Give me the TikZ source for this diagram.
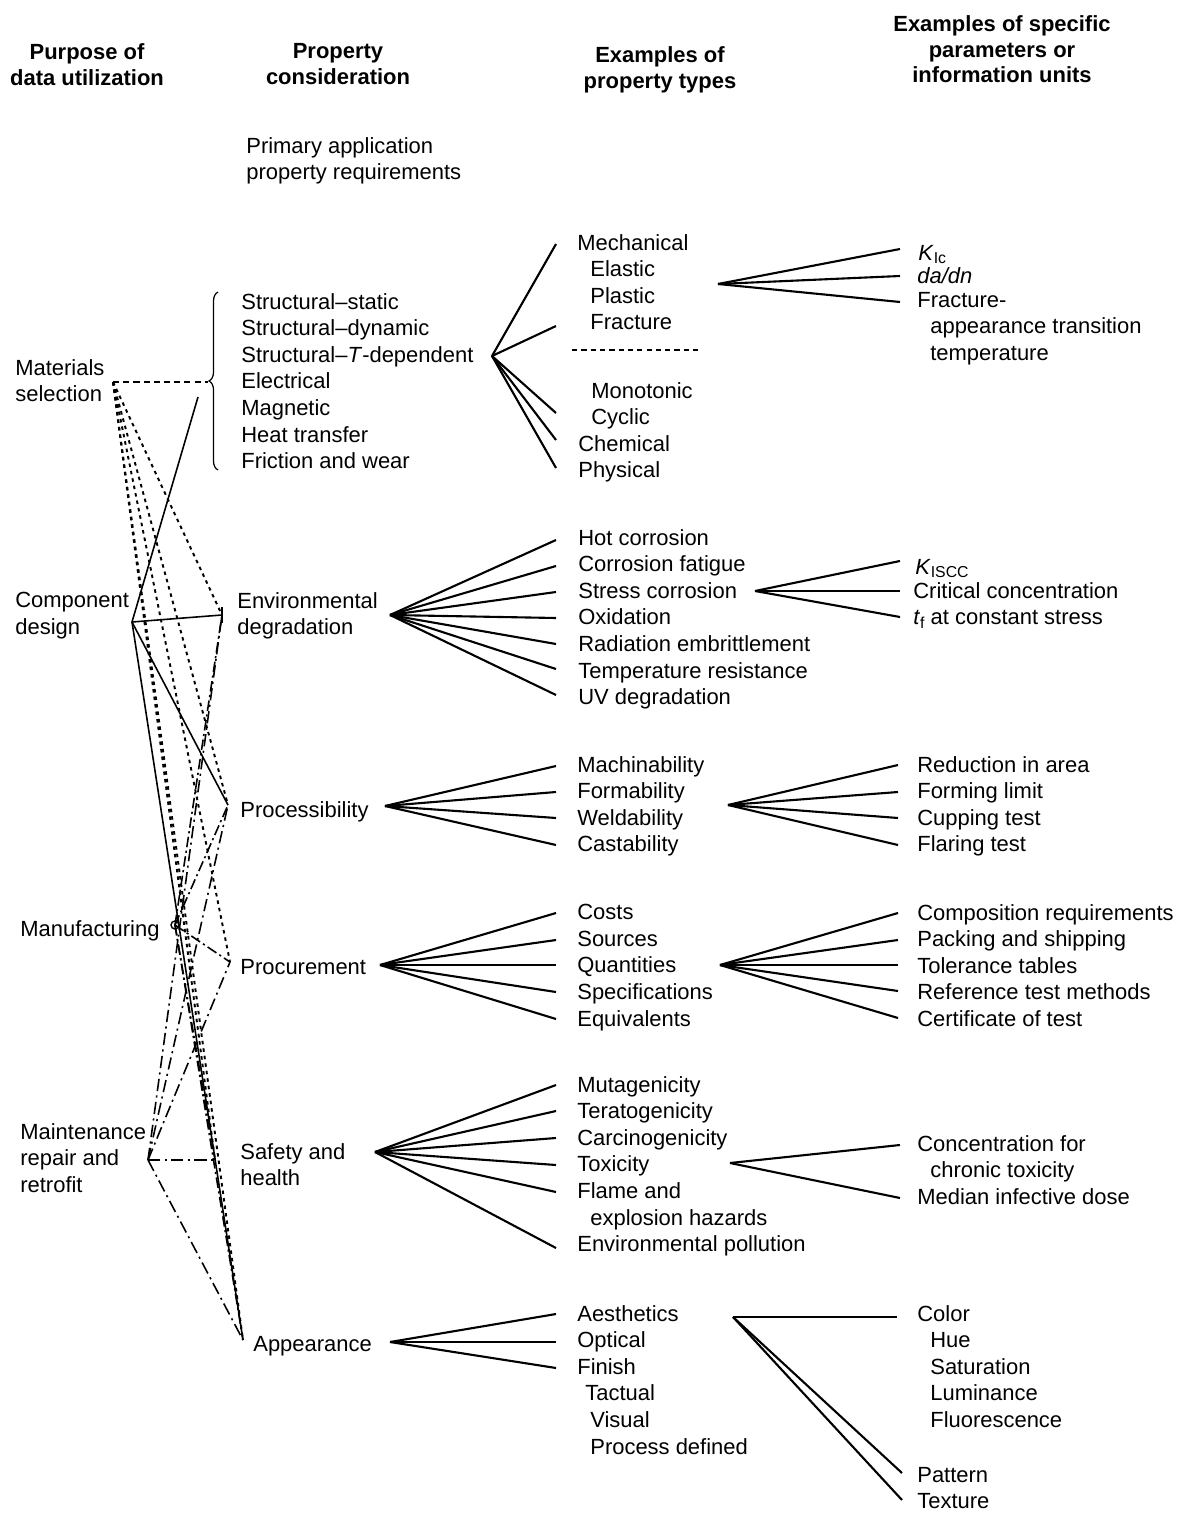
\documentclass[tikz,border=0pt]{standalone}
\usepackage{fontspec}
\setmainfont{Liberation Sans}
\usetikzlibrary{decorations.pathreplacing}
\newcommand\ind{\hspace*{0.26cm}}
\begin{document}
\begin{tikzpicture}[x=0.02cm,y=-0.02cm,
  txt/.style={anchor=north west,yshift=9.2pt,inner sep=0pt,align=left,font=\fontsize{12.5}{15.15}\selectfont,execute at begin node={\rule{0pt}{12pt}}},
  hdr/.style={anchor=north,yshift=9.2pt,inner sep=0pt,align=center,font=\bfseries\fontsize{12.5}{14.75}\selectfont,execute at begin node={\rule{0pt}{12pt}}},
  fan/.style={line width=1.2pt},
  msl/.style={line width=1.1pt,dash pattern=on 2pt off 2.3pt},
  cdl/.style={line width=0.9pt},
  mfl/.style={line width=0.9pt,dash pattern=on 6pt off 2pt on 1.2pt off 2pt},
  mrl/.style={line width=0.9pt,dash pattern=on 7pt off 2.5pt on 1.2pt off 2.5pt}]
\useasboundingbox (0,0) rectangle (1184,1513);

% headers
\node[hdr] (h1) at (87,59) {Purpose of\\data utilization};
\node[hdr] (h2) at (338,59) {Property\\consideration};
\node[hdr] (h3) at (660,62) {Examples of\\property types};
\node[hdr] (h4) at (1002,31) {Examples of specific\\parameters or\\information units};

% column 1
\node[txt] (ms) at (15,375) {Materials\\selection};
\node[txt] (cd) at (15,608) {Component\\design};
\node[txt] (mf) at (20,931) {Manufacturing};
\node[txt] (mr) at (20,1139) {Maintenance\\repair and\\retrofit};

% column 2
\node[txt] (prim) at (246,153) {Primary application\\property requirements};
\node[txt] (struct) at (241,309) {Structural--static\\Structural--dynamic\\Structural--\textit{T}-dependent\\Electrical\\Magnetic\\Heat transfer\\Friction and wear};
\node[txt] (env) at (237,608) {Environmental\\degradation};
\node[txt] (proc) at (240,812) {Processibility};
\node[txt] (procu) at (240,969) {Procurement};
\node[txt] (safe) at (240,1159) {Safety and\\health};
\node[txt] (app) at (253,1346) {Appearance};

% column 3
\node[txt] (mech) at (577,250) {Mechanical\\\ind Elastic\\\ind Plastic\\\ind Fracture};
\node[txt] (mono) at (578,398) {\ind Monotonic\\\ind Cyclic\\Chemical\\Physical};
\node[txt] (envt) at (578,545) {Hot corrosion\\Corrosion fatigue\\Stress corrosion\\Oxidation\\Radiation embrittlement\\Temperature resistance\\UV degradation};
\node[txt] (proct) at (577,772) {Machinability\\Formability\\Weldability\\Castability};
\node[txt] (procut) at (577,920) {Costs\\Sources\\Quantities\\Specifications\\Equivalents};
\node[txt] (safet) at (577,1092) {Mutagenicity\\Teratogenicity\\Carcinogenicity\\Toxicity\\Flame and\\\ind explosion hazards\\Environmental pollution};
\node[txt] (appt) at (577,1321) {Aesthetics\\Optical\\Finish\\\hspace*{0.16cm}Tactual\\\ind Visual\\\ind Process defined};

% column 4
\node[txt] (kic) at (918,255) {\textit{K}\raisebox{-0.25ex}{\small Ic}};
\node[txt] (dadn) at (917,278) {\textit{da/dn}};
\node[txt] (fat) at (917,308) {Fracture-\\\ind appearance transition\\\ind temperature};
\node[txt] (kiscc) at (915,569) {\textit{K}\raisebox{-0.3ex}{\small ISCC}};
\node[txt] (crit) at (913,598) {Critical concentration\\\textit{t}\raisebox{-0.35ex}{\small f} at constant stress};
\node[txt] (formp) at (917,772) {Reduction in area\\Forming limit\\Cupping test\\Flaring test};
\node[txt] (quantp) at (917,920) {Composition requirements\\Packing and shipping\\Tolerance tables\\Reference test methods\\Certificate of test};
\node[txt] (toxp) at (917,1151) {Concentration for\\\ind chronic toxicity\\Median infective dose};
\node[txt] (colp) at (917,1321) {Color\\\ind Hue\\\ind Saturation\\\ind Luminance\\\ind Fluorescence};
\node[txt] (patp) at (917,1483) {Pattern\\Texture};

% brace and dashed separator
\draw[line width=0.7pt,decorate,decoration={brace,amplitude=0.18cm}] (218,470) -- (218,292);
\draw[line width=1pt,dash pattern=on 3pt off 2.3pt] (572,350) -- (700,350);

% fans
\coordinate (fP) at (492,356);
\foreach \y in {244,326,413,440,468} \draw[fan] (fP) -- (556,\y);
\coordinate (fM) at (718,284);
\foreach \y in {249,276,302} \draw[fan] (fM) -- (900,\y);
\coordinate (fE) at (390,615);
\foreach \y in {540,566,592,618,644,669,695} \draw[fan] (fE) -- (556,\y);
\coordinate (fS) at (755,591);
\foreach \y in {561,591,617} \draw[fan] (fS) -- (900,\y);
\coordinate (fPr) at (385,806);
\foreach \y in {766,792,818,845} \draw[fan] (fPr) -- (556,\y);
\coordinate (fF) at (728,805);
\foreach \y in {765,792,818,845} \draw[fan] (fF) -- (898,\y);
\coordinate (fPc) at (380,965);
\foreach \y in {913,940,965,992,1019} \draw[fan] (fPc) -- (556,\y);
\coordinate (fQ) at (720,965);
\foreach \y in {913,940,965,991,1018} \draw[fan] (fQ) -- (898,\y);
\coordinate (fSa) at (375,1152);
\foreach \y in {1085,1111,1138,1165,1192,1248} \draw[fan] (fSa) -- (556,\y);
\coordinate (fT) at (730,1163);
\foreach \y in {1145,1198} \draw[fan] (fT) -- (900,\y);
\coordinate (fA) at (390,1342);
\foreach \y in {1314,1342,1368} \draw[fan] (fA) -- (556,\y);
\coordinate (fAe) at (733,1317);
\draw[fan] (fAe) -- (897,1317);
\draw[fan] (fAe) -- (902,1473);
\draw[fan] (fAe) -- (902,1500);

% left network
\coordinate (MS) at (113,382);
\coordinate (CD) at (132,622);
\coordinate (MF) at (175,925);
\coordinate (MR) at (148,1160);
\coordinate (tP) at (208,382);
\coordinate (tPs) at (198,397);
\coordinate (tE) at (222,615);
\coordinate (tPr) at (228,805);
\coordinate (tPc) at (230,962);
\coordinate (tS) at (215,1160);
\coordinate (tA) at (243,1340);

\draw[line width=1.1pt,dash pattern=on 3.5pt off 2.3pt] (MS) -- (tP);
\foreach \t in {tE,tPr,tPc,tS,tA} \draw[msl] (MS) -- (\t);
\foreach \t in {tPs,tE,tPr,tA} \draw[cdl] (CD) -- (\t);
\foreach \t in {tE,tPr,tPc,tS,tA} \draw[mfl] (MF) -- (\t);
\foreach \t in {tE,tPr,tPc,tS,tA} \draw[mrl] (MR) -- (\t);
\draw[line width=0.9pt] (222,607) -- (222,623);
\draw[line width=0.8pt] (MF) circle (4);
\end{tikzpicture}
\end{document}
